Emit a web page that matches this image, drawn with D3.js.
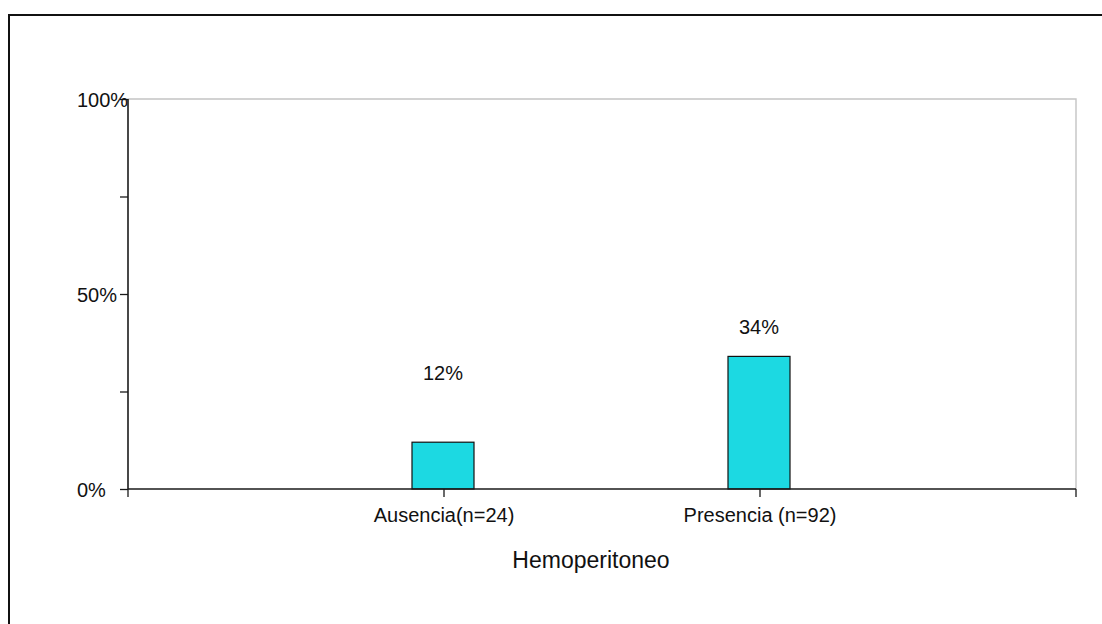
<!DOCTYPE html>
<html>
<head>
<meta charset="utf-8">
<script src="https://cdn.jsdelivr.net/npm/d3@7/dist/d3.min.js"></script>
<style>
  html, body { margin: 0; padding: 0; background: #ffffff; }
  svg { display: block; }
  text { font-family: "Liberation Sans", Arial, sans-serif; fill: #111; }
</style>
</head>
<body>
<svg id="chart" width="1102" height="624"></svg>
<script>
// Data
const categories = ["Ausencia(n=24)", "Presencia (n=92)"];
const percentages = [12, 34];
const valueLabels = ["12%", "34%"];
const yTickValues = [0, 25, 50, 75, 100];
const yTickLabels = { 0: "0%", 50: "50%", 100: "100%" };
const xAxisTitle = "Hemoperitoneo";

// Layout
const W = 1102, H = 624;
const plot = { left: 128, right: 1076, top: 99, bottom: 489 };
const tickLen = 8;
const barWidth = 62;
const labelLift = [62, 22]; // distance of each value label above its bar top
const barFill = "#1cd9e2";
const axisColor = "#1a1a1a";

const svg = d3.select("#chart");

// Outer chart frame (runs past the right and bottom edges)
svg.append("rect")
  .attr("x", 9).attr("y", 15)
  .attr("width", W + 20).attr("height", H + 20)
  .attr("fill", "#fff")
  .attr("stroke", "#111")
  .attr("stroke-width", 2);

const x = d3.scalePoint()
  .domain(categories)
  .range([plot.left, plot.right])
  .padding(1);

const y = d3.scaleLinear()
  .domain([0, 100])
  .range([plot.bottom, plot.top]);

// Plot area border (top and right edges, light grey)
svg.append("path")
  .attr("d", `M${plot.left},${plot.top}H${plot.right}V${plot.bottom}`)
  .attr("fill", "none")
  .attr("stroke", "#c4c4c4")
  .attr("stroke-width", 1.4);

// Bars
svg.append("g").selectAll("rect")
  .data(categories)
  .join("rect")
  .attr("x", (d) => x(d) - barWidth / 2 - 1)
  .attr("y", (d, i) => y(percentages[i]))
  .attr("width", barWidth)
  .attr("height", (d, i) => y(0) - y(percentages[i]))
  .attr("fill", barFill)
  .attr("stroke", "#111")
  .attr("stroke-width", 1.2);

// Value labels
svg.append("g").selectAll("text")
  .data(categories)
  .join("text")
  .attr("x", (d) => x(d) - 1)
  .attr("y", (d, i) => y(percentages[i]) - labelLift[i])
  .attr("text-anchor", "middle")
  .attr("font-size", 20)
  .text((d, i) => valueLabels[i]);

// Y axis
const yAxis = d3.axisLeft(y)
  .tickValues(yTickValues)
  .tickSize(tickLen)
  .tickFormat(() => "");
const gy = svg.append("g")
  .attr("transform", `translate(${plot.left},0)`)
  .call(yAxis);
gy.select(".domain").remove();
gy.selectAll(".tick line").attr("stroke", axisColor).attr("stroke-width", 1.3);

// Y tick labels (left aligned in a column)
svg.append("g").selectAll("text")
  .data(yTickValues.filter((v) => yTickLabels[v] !== undefined))
  .join("text")
  .attr("x", 77)
  .attr("y", (v) => y(v) + 8)
  .attr("font-size", 20)
  .text((v) => yTickLabels[v]);

// X axis: ticks at category positions and at both ends
const xTickPositions = [plot.left, ...categories.map((c) => x(c)), plot.right];
svg.append("g").selectAll("line")
  .data(xTickPositions)
  .join("line")
  .attr("x1", (d) => d).attr("x2", (d) => d)
  .attr("y1", plot.bottom).attr("y2", plot.bottom + tickLen)
  .attr("stroke", axisColor)
  .attr("stroke-width", 1.3);

// Axis lines
svg.append("line")
  .attr("x1", plot.left).attr("x2", plot.left)
  .attr("y1", plot.top).attr("y2", plot.bottom)
  .attr("stroke", axisColor).attr("stroke-width", 1.6);
svg.append("line")
  .attr("x1", plot.left).attr("x2", plot.right)
  .attr("y1", plot.bottom).attr("y2", plot.bottom)
  .attr("stroke", axisColor).attr("stroke-width", 1.6);

// Category labels
svg.append("g").selectAll("text")
  .data(categories)
  .join("text")
  .attr("x", (d) => x(d))
  .attr("y", plot.bottom + 33)
  .attr("text-anchor", "middle")
  .attr("font-size", 20)
  .text((d) => d);

// Axis title
svg.append("text")
  .attr("x", 591)
  .attr("y", 568)
  .attr("text-anchor", "middle")
  .attr("font-size", 23)
  .text(xAxisTitle);
</script>
</body>
</html>
